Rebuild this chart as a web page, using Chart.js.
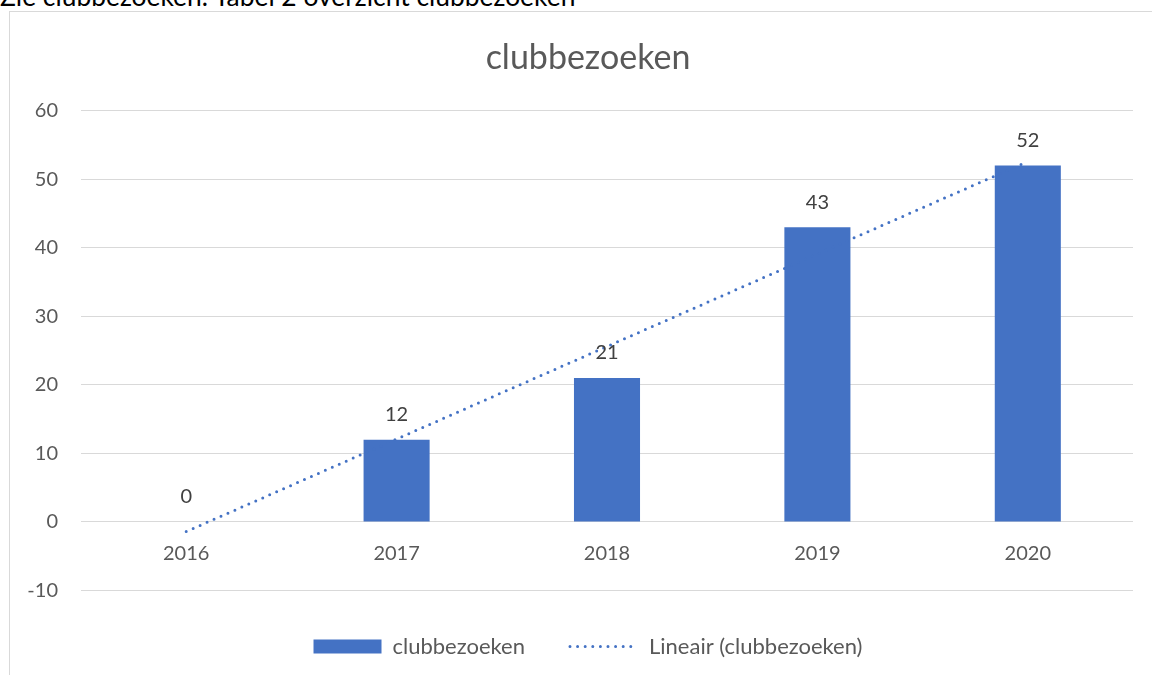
<!DOCTYPE html>
<html>
<head>
<meta charset="utf-8">
<script src="https://cdn.jsdelivr.net/npm/chart.js@4.4.1/dist/chart.umd.min.js"></script>
<style>
  html, body { margin: 0; padding: 0; background: #ffffff; overflow: hidden; width: 1152px; height: 675px; }
  #caption { position: absolute; left: 0; top: -17px; font-family: Lato, sans-serif; font-size: 26.4px; line-height: 26px; color: #000; white-space: nowrap; }
  #box { position: absolute; left: 9px; top: 11px; width: 1143px; height: 664px; border-left: 1px solid #d9d9d9; border-top: 1px solid #d9d9d9; }
  #c { position: absolute; left: 0; top: 0; }
</style>
</head>
<body>
<div id="caption">Zie clubbezoeken. Tabel 2 overzicht clubbezoeken</div>
<div id="box"><canvas id="c" width="1142" height="663"></canvas></div>
<script>
const categories = ['2016', '2017', '2018', '2019', '2020'];
const visits = [0, 12, 21, 43, 52];
const trendValues = [-1.4, 12.1, 25.6, 39.1, 52.6];
const seriesName = 'clubbezoeken';
const trendName = 'Lineair (clubbezoeken)';
const chartTitle = 'clubbezoeken';

const BLUE = '#4472C4';
const TEXT = '#595959';
const FONT = 'Lato, sans-serif';

const valueLabels = {
  id: 'valueLabels',
  afterDatasetsDraw(chart) {
    const meta = chart.getDatasetMeta(0);
    const ctx = chart.ctx;
    ctx.save();
    ctx.font = '20px ' + FONT;
    ctx.fillStyle = '#404040';
    ctx.textAlign = 'center';
    ctx.textBaseline = 'middle';
    meta.data.forEach((el, i) => {
      ctx.fillText(String(visits[i]), el.x, el.y - 25);
    });
    ctx.restore();
  }
};

// centre title and legend on the whole chart frame (which extends past the right edge)
const shiftBlocks = {
  id: 'shiftBlocks',
  afterLayout(chart) {
    const dx = 16.5;
    [chart.titleBlock, chart.legend].forEach((b) => {
      if (b) { b.left += dx; b.right += dx; }
    });
  }
};

new Chart(document.getElementById('c'), {
  data: {
    labels: categories,
    datasets: [
      {
        type: 'bar',
        label: seriesName,
        data: visits,
        backgroundColor: BLUE,
        borderWidth: 0,
        barPercentage: 0.314,
        categoryPercentage: 1.0,
        order: 1
      },
      {
        type: 'line',
        label: trendName,
        data: trendValues,
        borderColor: BLUE,
        backgroundColor: BLUE,
        borderWidth: 3,
        borderDash: [0, 7.6],
        borderCapStyle: 'round',
        pointRadius: 0,
        fill: false,
        tension: 0,
        order: 0
      }
    ]
  },
  options: {
    responsive: false,
    animation: false,
    devicePixelRatio: 1,
    layout: { padding: { left: 0, right: 19, top: 0, bottom: 7.5 } },
    scales: {
      y: {
        min: -10,
        max: 60,
        ticks: { stepSize: 10, color: TEXT, font: { family: FONT, size: 20 }, padding: 23 },
        grid: { color: '#d9d9d9', lineWidth: 1, drawTicks: false },
        border: { display: false },
        afterFit: (s) => { s.width = 71; }
      },
      x: {
        position: { y: 0 },
        grid: { display: false, drawTicks: false },
        border: { display: false },
        ticks: { color: TEXT, font: { family: FONT, size: 20 }, padding: 20 }
      }
    },
    plugins: {
      title: {
        display: true,
        text: chartTitle,
        color: TEXT,
        font: { family: FONT, size: 34, weight: 'normal' },
        padding: { top: 25.6, bottom: 32.3 }
      },
      legend: {
        position: 'bottom',
        labels: {
          color: TEXT,
          font: { family: FONT, size: 22 },
          usePointStyle: true,
          pointStyleWidth: 68,
          boxHeight: 14,
          padding: 45,
          generateLabels: () => [
            { text: seriesName, fillStyle: BLUE, strokeStyle: BLUE, lineWidth: 0, pointStyle: 'rect', datasetIndex: 0, hidden: false, fontColor: TEXT },
            { text: trendName, fillStyle: BLUE, strokeStyle: BLUE, lineWidth: 3, lineDash: [0, 7.6], lineCap: 'round', pointStyle: 'line', datasetIndex: 1, hidden: false, fontColor: TEXT }
          ]
        }
      },
      tooltip: { enabled: false }
    }
  },
  plugins: [valueLabels, shiftBlocks]
});
</script>
</body>
</html>
